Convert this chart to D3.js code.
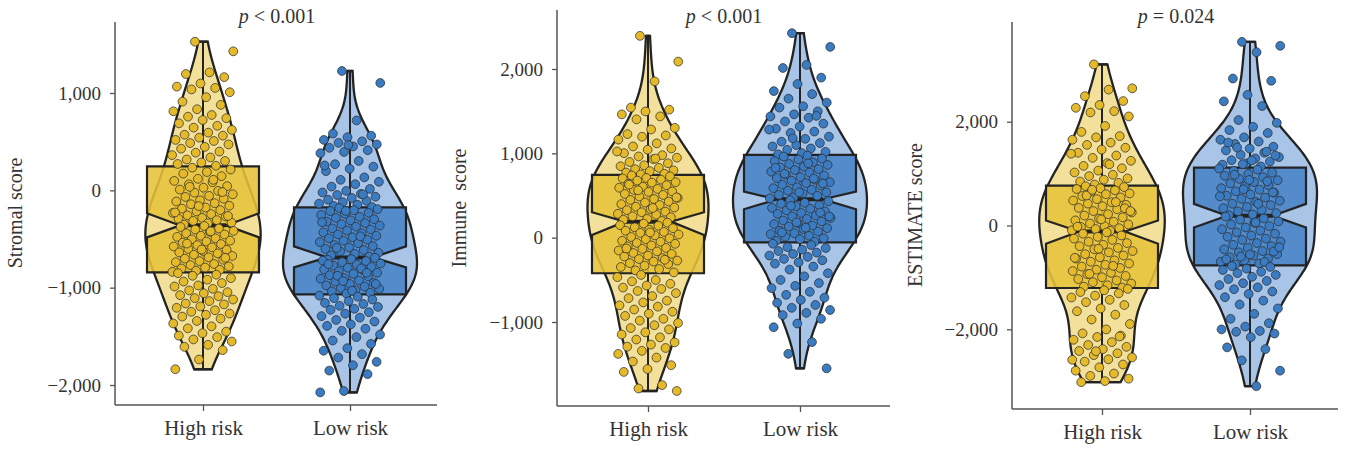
<!DOCTYPE html>
<html>
<head>
<meta charset="utf-8">
<script src="https://cdn.jsdelivr.net/npm/d3@7"></script>
<style>
  body { margin: 0; background: #fff; }
  svg { display: block; }
</style>
</head>
<body>
<svg id="chart"></svg>
<script>
// groups and panel texts
const groups = ['High risk', 'Low risk'];
const panelLabels = ['Stromal score', 'Immune  score', 'ESTIMATE score'];
const pOps = ['<', '<', '='];
const pNums = ['0.001', '0.001', '0.024'];
const yTicks = [[-2000, -1000, 0, 1000], [-1000, 0, 1000, 2000], [-2000, 0, 2000]];

// sample scores read from the jittered points
const stromalHigh = [1527, 1428, 1212, 1195, 1163, 1098, 1066, 1052, 1037, 1008, 957, 911, 878, 833, 812, 774, 757, 741, 722, 688, 663, 644, 621, 593, 571, 562, 541, 518, 507, 486, 472, 446, 428, 398, 387, 362, 338, 317, 302, 286, 271, 253,
  233, 214, 188, 172, 146, 118, 97, 83, 62, 43, 27, 8, -6, -24, -41, -57, -68, -86, -103, -114, -132, -143, -158, -177, -188, -203, -216, -232, -244, -257, -268, -283, -292, -306, -314, -331, -338, -352, -18, -162, -227, 108, 36, -263,
  -366, -377, -392, -403, -417, -426, -442, -453, -467, -478, -492, -503, -517, -526, -538, -552, -563, -577, -586, -602, -611, -623, -637, -648, -662, -674, -688, -702, -713, -727, -738, -757, -768, -782, -793, -803, -817, -826, -838, -421, -547, -693, -608,
  -851, -867, -878, -902, -918, -937, -953, -977, -988, -1012, -1028, -1046, -1058, -1077, -1088, -1108, -1122, -1138, -1163, -1172, -1193, -1207, -1232, -1248, -1266, -1279, -1297, -1318, -1342, -1368, -1397, -1418, -1452, -1468, -1493, -1508, -1532, -1553, -1587, -1608, -1642, -1738, -1838];
const stromalLow = [1226, 1103, 718, 583, 561, 546, 518, 503, 488, 472, 451, 437, 412, 394, 382, 302, 268, 243, 222, 197, 133, 108, 88, 63, 38, 14, -6, -22, -37, -48, -66, -79, -97, -108, -122, -137, -148, -161, -172, 466, 256, -41,
  -182, -193, -204, -213, -231, -242, -253, -272, -283, -297, -308, -322, -336, -348, -362, -373, -391, -402, -413, -432, -441, -453, -467, -482, -493, -507, -518, -532, -543, -562, -573, -587, -602, -613, -627, -642, -653, -668, -681, -212, -328, -472, -592,
  -694, -706, -713, -727, -738, -752, -763, -773, -787, -796, -812, -818, -833, -847, -858, -872, -883, -902, -908, -927, -938, -952, -963, -977, -988, -1002, -1013, -1027, -1038, -1052, -1061, -722, -802, -878, -962, -1032, -758, -848, -932,
  -1082, -1093, -1108, -1122, -1138, -1157, -1168, -1187, -1198, -1217, -1228, -1252, -1268, -1292, -1308, -1332, -1348, -1377, -1393, -1422, -1443, -1482, -1508, -1543, -1578, -1622, -1648, -1683, -1718, -1762, -1797, -1852, -1888, -2062, -2076];
const immuneHigh = [2393, 2088, 1853, 1542, 1518, 1497, 1462, 1438, 1403, 1302, 1283, 1228, 1212, 1197, 1163, 1118, 1082, 1058, 1043, 1002, 978, 963, 948, 932, 897, 882, 858, 847, 828, 812, 798, 788, 772, 758, 751, 1022, 938,
  738, 727, 708, 702, 688, 677, 658, 652, 638, 622, 603, 592, 578, 567, 548, 542, 518, 507, 488, 472, 458, 447, 428, 417, 398, 387, 368, 357, 338, 327, 308, 302, 283, 272, 253, 242, 223, 212, 198, 562, 478, 352, 628,
  178, 167, 148, 142, 123, 112, 93, 82, 68, 57, 38, 27, 8, -7, -18, -37, -48, -62, -73, -92, -103, -122, -133, -152, -163, -182, -193, -212, -223, -242, -253, -272, -283, -302, -313, -332, -348, -372, -388, -412, 62, -128, -262,
  -442, -468, -502, -518, -547, -568, -592, -608, -632, -658, -692, -718, -747, -768, -802, -818, -852, -878, -902, -928, -962, -983, -1012, -1038, -1072, -1088, -1122, -1148, -1182, -1208, -1242, -1268, -1292, -1308, -1342, -1378, -1422, -1468, -1512, -1558, -1592, -1748, -1788, -1818];
const immuneLow = [2425, 2262, 2048, 2012, 1898, 1822, 1738, 1702, 1648, 1602, 1558, 1542, 1498, 1462, 1438, 1422, 1378, 1352, 1318, 1292, 1258, 1242, 1198, 1172, 1138, 1122, 1098, 1082, 1058, 1042, 1018, 1002, 988, 1444, 1178, 1282,
  973, 962, 938, 927, 908, 892, 873, 862, 843, 832, 813, 802, 783, 772, 748, 737, 718, 707, 688, 677, 658, 647, 628, 617, 598, 587, 568, 557, 538, 527, 508, 497, 478, 467, 882, 758, 642, 538, 828, 702,
  443, 432, 413, 402, 383, 372, 353, 342, 323, 312, 293, 282, 263, 252, 233, 222, 203, 192, 173, 162, 143, 132, 113, 102, 83, 72, 53, 42, 23, 12, -7, -18, -37, -48, 378, 252, 118, 62, 298, 182,
  -72, -88, -112, -123, -142, -158, -177, -193, -212, -228, -252, -268, -292, -308, -342, -378, -422, -458, -502, -538, -572, -598, -642, -678, -712, -738, -772, -798, -832, -858, -892, -918, -962, -1018, -1062, -1238, -1377, -1549];
const estimateHigh = [3104, 2643, 2618, 2492, 2398, 2322, 2268, 2203, 2178, 2102, 1918, 1803, 1722, 1698, 1652, 1597, 1553, 1498, 1462, 1402, 1348, 1303, 1247, 1202, 1148, 1103, 1058, 1022, 978, 952, 908, 882, 847, 822, 788, 1383, 1178,
  758, 742, 718, 702, 678, 652, 618, 603, 568, 542, 508, 482, 448, 422, 398, 372, 338, 312, 278, 252, 218, 192, 158, 132, 98, 72, 38, 22, -12, -28, -52, -68, -92, -103, 578, 332, 118, -22, 452, 688, 278,
  -132, -158, -192, -218, -252, -278, -312, -338, -372, -398, -432, -458, -492, -518, -552, -578, -612, -638, -672, -698, -732, -758, -792, -818, -852, -878, -912, -938, -972, -998, -1032, -1058, -1092, -1118, -1152, -1178, -1198, -448, -622, -778, -932,
  -1222, -1248, -1282, -1308, -1352, -1388, -1432, -1478, -1532, -1598, -1652, -1718, -1812, -1898, -2002, -2078, -2122, -2148, -2202, -2248, -2302, -2338, -2382, -2418, -2462, -2498, -2542, -2578, -2622, -2678, -2732, -2798, -2852, -2898, -2952, -2998, -3019, -2138, -2422, -2588];
const estimateLow = [3538, 3462, 3338, 2832, 2788, 2518, 2392, 2302, 2032, 1978, 1902, 1838, 1782, 1698, 1652, 1618, 1572, 1518, 1482, 1448, 1402, 1362, 1318, 1292, 1258, 1232, 1198, 1172, 1138, 1502, 1348, 1252, 1598, 1422, 1182,
  1098, 1078, 1052, 1018, 992, 958, 932, 898, 872, 838, 812, 778, 752, 718, 692, 658, 632, 598, 572, 538, 512, 478, 452, 418, 392, 358, 332, 298, 272, 238, 212, 198, 852, 698, 562, 418, 978, 638, 878,
  172, 138, 112, 78, 52, 18, -12, -38, -72, -98, -132, -158, -192, -218, -252, -278, -312, -338, -372, -398, -432, -458, -492, -518, -552, -578, -612, -638, -672, -698, -732, -752, -502, -558, -652, -702, -598, -418, 58,
  -782, -798, -832, -858, -892, -918, -952, -988, -1032, -1068, -1112, -1148, -1192, -1228, -1272, -1318, -1382, -1448, -1522, -1598, -1702, -1798, -1882, -1948, -2002, -2032, -2048, -2082, -2152, -2348, -2382, -2598, -2798, -3096];

// notched box stats: [q1, notch low, median, notch high, q3]
const stromalBox = [[-843, -483, -360, -236, 247], [-1069, -791, -689, -576, -175]];
const immuneBox = [[-422, 32, 190, 301, 744], [-55, 337, 455, 546, 981]];
const estimateBox = [[-1204, -352, -115, 96, 769], [-769, -38, 187, 417, 1115]];

const panelData = [[stromalHigh, stromalLow], [immuneHigh, immuneLow], [estimateHigh, estimateLow]];
const panelBoxes = [stromalBox, immuneBox, estimateBox];

// where each panel sits in the 1345x449 frame
const layout = [
  { ax: 115, top: 22, bottom: 405, right: 437, dom: [-2000, 1000], rng: [385, 93], cats: [203, 350], titleX: 277, labelX: 22, labelY: 213 },
  { ax: 557, top: 10, bottom: 406, right: 890, dom: [-1000, 2000], rng: [322, 69], cats: [648, 800], titleX: 724, labelX: 466, labelY: 208 },
  { ax: 1012, top: 22, bottom: 409, right: 1338, dom: [-2000, 2000], rng: [329.3, 121.7], cats: [1102, 1250], titleX: 1176, labelX: 922, labelY: 215 }
];

const violinFill = ['#f3e09a', '#a8c4e7'];
const boxFill = ['#e6c13a', '#4883c6'];
const pointFill = ['#e4ba2a', '#3a7bc2'];
const ink = '#232323';
const font = '"Liberation Serif", "DejaVu Serif", serif';

const width = 1345, height = 449;
const svg = d3.select('#chart').attr('width', width).attr('height', height);

function kde(values, grid) {
  const n = values.length;
  const sd = d3.deviation(values);
  const h = sd * Math.pow(n, -0.2);
  return grid.map(v => {
    let s = 0;
    for (const x of values) { const u = (v - x) / h; s += Math.exp(-0.5 * u * u); }
    return { v, d: s / (n * h * Math.sqrt(2 * Math.PI)) };
  });
}

layout.forEach((L, pi) => {
  const g = svg.append('g');
  const y = d3.scaleLinear().domain(L.dom).range(L.rng);
  const x = d3.scalePoint().domain(groups).range(L.cats);

  // densities for both violins, shared width scale per panel
  const dens = panelData[pi].map(vals => {
    const [lo, hi] = d3.extent(vals);
    const grid = d3.range(0, 121).map(k => lo + (hi - lo) * k / 120);
    return kde(vals, grid);
  });
  const maxD = d3.max(dens, ds => d3.max(ds, d => d.d));
  const w = d3.scaleLinear().domain([0, maxD]).range([0, 67]);

  groups.forEach((grp, gi) => {
    const cx = x(grp);
    const vals = panelData[pi][gi];
    const [lo, hi] = d3.extent(vals);
    const area = d3.area()
      .y(d => y(d.v))
      .x0(d => cx - w(d.d))
      .x1(d => cx + w(d.d))
      .curve(d3.curveCatmullRom);
    const ds = dens[gi];

    g.append('path')
      .datum(ds)
      .attr('d', area)
      .attr('fill', violinFill[gi])
      .attr('stroke', ink)
      .attr('stroke-width', 2.3);
    // flat caps at the ends
    [ds[0], ds[ds.length - 1]].forEach(d => {
      g.append('line')
        .attr('x1', cx - w(d.d)).attr('x2', cx + w(d.d))
        .attr('y1', y(d.v)).attr('y2', y(d.v))
        .attr('stroke', ink).attr('stroke-width', 2.3);
    });

    // whisker through the full range
    g.append('line')
      .attr('x1', cx).attr('x2', cx)
      .attr('y1', y(hi)).attr('y2', y(lo))
      .attr('stroke', ink).attr('stroke-width', 2);

    // notched box
    const [q1, nlo, med, nhi, q3] = panelBoxes[pi][gi];
    const bw = 56, nw = 23;
    const pts = [
      [cx - bw, y(q3)], [cx + bw, y(q3)], [cx + bw, y(nhi)], [cx + nw, y(med)], [cx + bw, y(nlo)],
      [cx + bw, y(q1)], [cx - bw, y(q1)], [cx - bw, y(nlo)], [cx - nw, y(med)], [cx - bw, y(nhi)]
    ];
    g.append('path')
      .attr('d', d3.line()(pts) + 'Z')
      .attr('fill', boxFill[gi])
      .attr('fill-opacity', 0.88)
      .attr('stroke', ink)
      .attr('stroke-width', 2.2)
      .attr('stroke-linejoin', 'miter');
    g.append('line')
      .attr('x1', cx - nw).attr('x2', cx + nw)
      .attr('y1', y(med)).attr('y2', y(med))
      .attr('stroke', ink).attr('stroke-width', 4);

    // jittered points (fixed golden-ratio spread, not random)
    g.append('g').selectAll('circle')
      .data(vals)
      .join('circle')
      .attr('cx', (d, i) => cx + (((i * 0.6180339887 + 0.37) % 1) - 0.5) * 62)
      .attr('cy', d => y(d))
      .attr('r', 4.4)
      .attr('fill', pointFill[gi])
      .attr('stroke', '#2a2a2a')
      .attr('stroke-opacity', 0.8)
      .attr('stroke-width', 0.9);
  });

  // axes
  g.append('line')
    .attr('x1', L.ax).attr('x2', L.ax).attr('y1', L.top).attr('y2', L.bottom)
    .attr('stroke', '#555').attr('stroke-width', 1.5);
  g.append('line')
    .attr('x1', L.ax).attr('x2', L.right).attr('y1', L.bottom).attr('y2', L.bottom)
    .attr('stroke', '#555').attr('stroke-width', 1.5);

  const yAxis = g.append('g')
    .attr('transform', `translate(${L.ax},0)`)
    .call(d3.axisLeft(y).tickValues(yTicks[pi]).tickSize(5).tickPadding(9).tickFormat(d3.format(',')));
  yAxis.select('.domain').remove();
  yAxis.selectAll('line').attr('stroke', '#555').attr('stroke-width', 1.3);
  yAxis.selectAll('text').attr('font-family', font).attr('font-size', 19).attr('fill', '#333');

  const xAxis = g.append('g')
    .attr('transform', `translate(0,${L.bottom})`)
    .call(d3.axisBottom(x).tickSize(6).tickPadding(9));
  xAxis.select('.domain').remove();
  xAxis.selectAll('line').attr('stroke', '#555').attr('stroke-width', 1.3);
  xAxis.selectAll('text').attr('font-family', font).attr('font-size', 21).attr('fill', '#333');

  // y label
  g.append('text')
    .attr('transform', `translate(${L.labelX},${L.labelY}) rotate(-90)`)
    .attr('text-anchor', 'middle')
    .attr('font-family', font)
    .attr('font-size', 20)
    .attr('fill', '#333')
    .style('white-space', 'pre')
    .text(panelLabels[pi]);

  // p value
  const t = g.append('text')
    .attr('x', L.titleX).attr('y', 23)
    .attr('text-anchor', 'middle')
    .attr('font-family', font)
    .attr('font-size', 20)
    .attr('fill', '#333');
  t.append('tspan').attr('font-style', 'italic').text('p');
  t.append('tspan').text(` ${pOps[pi]} ${pNums[pi]}`);
});
</script>
</body>
</html>
